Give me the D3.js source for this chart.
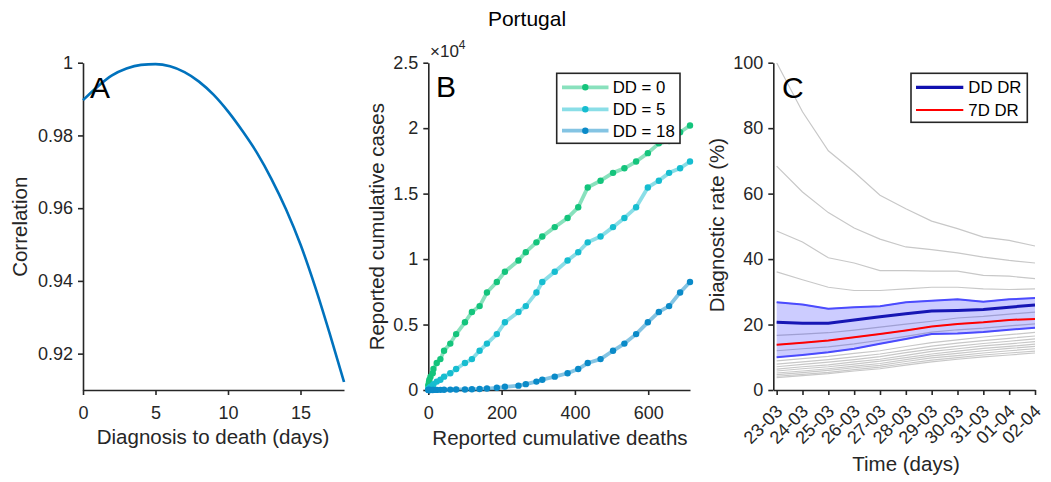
<!DOCTYPE html>
<html><head><meta charset="utf-8">
<script src="https://cdn.jsdelivr.net/npm/d3@7"></script>
<style>
body{margin:0;background:#fff;}
svg{display:block;font-family:"Liberation Sans",Arial,sans-serif;}
</style></head><body>
<svg id="chart" width="1051" height="482"></svg>
<script>
// ---------------- DATA ----------------
const chartTitle = "Portugal";

// Panel A: correlation vs diagnosis-to-death delay
const delayDays = [0,1,2,3,4,5,6,7,8,9,10,11,12,13,14,15,16,17,18];
const correlation = [0.9897,0.9934,0.9965,0.9984,0.9994,0.9996,0.9990,0.9974,0.9948,0.9912,0.9866,0.9812,0.9752,0.9680,0.9597,0.9500,0.9385,0.9257,0.9122];
const aXTicks = [0,5,10,15];
const aYTicks = [0.92,0.94,0.96,0.98,1];

// Panel B: cumulative cases (27 Feb .. 19 Apr) and cumulative deaths (16 Mar .. 19 Apr)
const cumCases = [0,0,0,0,2,4,6,9,13,21,30,39,41,59,78,112,169,245,331,448,642,785,1020,1280,
  1600,2060,2362,2995,3544,4268,5170,5962,6408,7443,8251,9034,9886,10524,11278,11730,12442,13141,
  13956,15472,15987,16585,16934,17448,18091,18841,19022,19685,20206];
const cumDeaths = [0,1,2,3,6,12,14,23,33,43,60,76,100,119,140,160,187,209,246,266,295,311,345,380,
  409,435,470,504,535,567,599,629,657,687,714];
const deathStartIndex = 18; // index of 16 Mar in cumCases
const delays = [0,5,18];
const delayLabels = ["DD = 0","DD = 5","DD = 18"];
const delayColors = ["#14c47c","#16bdd0","#0a8ac8"];
const bXTicks = [0,200,400,600];
const bYTicks = [0,5000,10000,15000,20000,25000];

// Panel C: diagnostic rate (%)
const dateLabels = ["23-03","24-03","25-03","26-03","27-03","28-03","29-03","30-03","31-03","01-04","02-04"];
const drByDelay = [
  [100.0,85.0,73.1,66.6,59.5,55.4,51.6,49.3,46.7,45.7,44.0],
  [68.4,60.5,54.2,49.5,46.1,43.7,42.9,41.9,40.6,39.6,38.8],
  [48.6,45.2,40.4,38.8,36.5,36.5,36.3,36.3,35.0,34.8,34.0],
  [36.1,33.7,31.4,30.4,30.4,30.9,31.4,31.4,30.9,30.7,30.9],
  [26.8,26.1,24.8,25.3,25.6,26.8,27.3,27.7,27.0,27.7,28.1],
  [20.7,20.4,20.4,21.4,22.4,23.3,24.1,24.3,24.6,25.3,26.0],
  [16.7,17.1,17.5,18.3,19.2,20.1,21.0,22.0,22.5,23.2,23.8],
  [13.8,14.4,15.1,16.1,17.1,18.2,19.4,20.2,20.7,21.4,21.7],
  [12.0,12.6,13.2,14.1,15.2,16.4,17.7,18.4,18.9,19.6,20.2],
  [10.0,10.7,11.5,12.6,14.1,15.6,17.1,17.3,17.7,18.4,19.0],
  [8.9,9.6,10.3,11.2,12.0,13.3,14.5,15.3,16.2,16.9,17.6],
  [7.9,8.6,9.3,10.1,11.0,12.2,13.4,14.3,15.1,15.8,16.5],
  [7.1,7.8,8.5,9.3,10.2,11.4,12.5,13.4,14.2,14.9,15.6],
  [6.4,7.1,7.7,8.6,9.4,10.6,11.8,12.6,13.5,14.1,14.8],
  [5.8,6.5,7.1,7.9,8.8,9.9,11.0,11.9,12.7,13.3,14.0],
  [5.2,5.8,6.5,7.3,8.1,9.3,10.4,11.2,12.0,12.7,13.3],
  [4.7,5.3,6.0,6.8,7.5,8.7,9.8,10.5,11.3,12.0,12.6],
  [4.2,4.8,5.4,6.2,7.0,8.1,9.1,9.9,10.7,11.3,11.9],
  [3.8,4.4,5.0,5.8,6.5,7.6,8.6,9.4,10.1,10.7,11.3]
];
const drUpper = [26.8,26.1,24.8,25.3,25.6,26.8,27.3,27.7,27.0,27.7,28.1];
const drLower = [10.0,10.7,11.5,12.6,14.1,15.6,17.1,17.3,17.7,18.4,19.0];
const ddDR    = [20.7,20.4,20.4,21.4,22.4,23.3,24.1,24.3,24.6,25.3,26.0];
const sevenDayDR = [13.8,14.4,15.1,16.1,17.1,18.2,19.4,20.2,20.7,21.4,21.7];
const cYTicks = [0,20,40,60,80,100];

// ---------------- DRAWING ----------------
const svg = d3.select("#chart");
const AX = "#262626";
const TICK_FS = 18, LABEL_FS = 20.5, LEG_FS = 16.8;

function styleAxis(g){
  g.select(".domain").attr("stroke",AX).attr("stroke-width",1.6);
  g.selectAll(".tick line").attr("stroke",AX).attr("stroke-width",1.6);
  g.selectAll(".tick text").attr("fill",AX).attr("font-size",TICK_FS).attr("font-family","Liberation Sans, Arial, sans-serif");
}
function drawAxes(x, y, xTicks, yTicks, xFmt, yFmt){
  const gx = svg.append("g").attr("transform",`translate(0,${y.range()[0]})`)
    .call(d3.axisBottom(x).tickValues(xTicks).tickFormat(xFmt).tickSizeInner(5).tickSizeOuter(0).tickPadding(11));
  styleAxis(gx);
  const gy = svg.append("g").attr("transform",`translate(${x.range()[0]},0)`)
    .call(d3.axisLeft(y).tickValues(yTicks).tickFormat(yFmt).tickSizeInner(5).tickSizeOuter(0).tickPadding(5));
  styleAxis(gy);
  return {gx, gy};
}
function text(x, y, s, fs, opts={}){
  const t = svg.append("text").attr("x",x).attr("y",y).text(s)
    .attr("font-size",fs).attr("fill",opts.fill||AX)
    .attr("text-anchor",opts.anchor||"middle");
  if(opts.rotate) t.attr("transform",`rotate(${opts.rotate},${x},${y})`);
  if(opts.dy) t.attr("dy",opts.dy);
  return t;
}

// Title
text(527, 26, chartTitle, 21, {fill:"#000"});

// ---------- Panel A ----------
const xA = d3.scaleLinear().domain([0,18]).range([83,344]);
const yA = d3.scaleLinear().domain([0.91,1]).range([390,62.7]);
drawAxes(xA, yA, aXTicks, aYTicks, d3.format("d"), d => d===1 ? "1" : d3.format(".2f")(d));
svg.append("path").datum(delayDays.map((d,i)=>[d,correlation[i]]))
  .attr("fill","none").attr("stroke","#0072bd").attr("stroke-width",2.6)
  .attr("d", d3.line().x(d=>xA(d[0])).y(d=>yA(d[1])).curve(d3.curveMonotoneX));
text(90, 98, "A", 30, {fill:"#000", anchor:"start"});
text(20, 226.7, "Correlation", LABEL_FS, {rotate:-90, dy:"0.35em"});
text(213, 444, "Diagnosis to death (days)", LABEL_FS);

// ---------- Panel B ----------
const xB = d3.scaleLinear().domain([0,714]).range([428.3,690]);
const yB = d3.scaleLinear().domain([0,25000]).range([390,62.7]);
drawAxes(xB, yB, bXTicks, bYTicks, d3.format("d"), d => String(d/1e4));
delays.forEach((lag,k)=>{
  const pts = cumDeaths.map((dth,i)=>[dth, cumCases[i+deathStartIndex-lag]]);
  svg.append("path").datum(pts).attr("fill","none").attr("stroke",delayColors[k])
    .attr("stroke-opacity",0.5).attr("stroke-width",3.8).attr("stroke-linejoin","round")
    .attr("d", d3.line().x(d=>xB(d[0])).y(d=>yB(d[1])));
  svg.append("g").selectAll("circle").data(pts).join("circle")
    .attr("cx",d=>xB(d[0])).attr("cy",d=>yB(d[1])).attr("r",3.2).attr("fill",delayColors[k]);
});
text(436, 97, "B", 30, {fill:"#000", anchor:"start"});
const exp = svg.append("text").attr("x",430).attr("y",56.7).attr("font-size",17).attr("fill",AX);
exp.append("tspan").text("×10");
exp.append("tspan").attr("font-size",12).attr("dy",-8).text("4");
text(377, 226.7, "Reported cumulative cases", LABEL_FS, {rotate:-90, dy:"0.35em"});
text(560, 445, "Reported cumulative deaths", LABEL_FS);
// legend B
const legB = svg.append("g");
legB.append("rect").attr("x",556.7).attr("y",73.3).attr("width",123.3).attr("height",70)
  .attr("fill","#fff").attr("stroke",AX).attr("stroke-width",1.6);
delayLabels.forEach((lab,k)=>{
  const yy = [87.3,109.3,130.7][k];
  legB.append("line").attr("x1",562).attr("x2",608.5).attr("y1",yy).attr("y2",yy)
    .attr("stroke",delayColors[k]).attr("stroke-opacity",0.5).attr("stroke-width",3.8);
  legB.append("circle").attr("cx",585.3).attr("cy",yy).attr("r",3.2).attr("fill",delayColors[k]);
  legB.append("text").attr("x",612.7).attr("y",yy).attr("dy","0.36em").attr("font-size",LEG_FS)
    .attr("fill","#000").text(lab);
});

// ---------- Panel C ----------
const xC = d3.scaleLinear().domain([-0.13,10]).range([773.3,1035]);
const yC = d3.scaleLinear().domain([0,100]).range([390,62.7]);
const idx = dateLabels.map((d,i)=>i);
const axC = drawAxes(xC, yC, idx, cYTicks, i => dateLabels[i], d3.format("d"));
axC.gx.selectAll(".tick text").attr("text-anchor","end").attr("dy","0.35em")
  .attr("y",0).attr("x",0).attr("transform","translate(2,18) rotate(-45)");
const lineC = d3.line().x((d,i)=>xC(i)).y(d=>yC(d));
const clipC = svg.append("clipPath").attr("id","clipC").append("rect")
  .attr("x",773.3).attr("y",62.7).attr("width",262).attr("height",327.3);
const gC = svg.append("g").attr("clip-path","url(#clipC)");
drByDelay.forEach(arr=>{
  gC.append("path").datum(arr).attr("fill","none").attr("stroke","#c8c8c8").attr("stroke-width",1.2).attr("d",lineC);
});
gC.append("path").datum(idx).attr("fill","rgba(0,0,255,0.2)").attr("stroke","none")
  .attr("d", d3.area().x(i=>xC(i)).y0(i=>yC(drLower[i])).y1(i=>yC(drUpper[i])));
[drUpper, drLower].forEach(arr=>{
  gC.append("path").datum(arr).attr("fill","none").attr("stroke","#4b4bff").attr("stroke-width",2).attr("d",lineC);
});
gC.append("path").datum(ddDR).attr("fill","none").attr("stroke","#1616b4").attr("stroke-width",3).attr("d",lineC);
gC.append("path").datum(sevenDayDR).attr("fill","none").attr("stroke","#ff0000").attr("stroke-width",2).attr("d",lineC);
text(782, 98, "C", 30, {fill:"#000", anchor:"start"});
text(717, 225, "Diagnostic rate (%)", LABEL_FS, {rotate:-90, dy:"0.35em"});
text(906, 471, "Time (days)", LABEL_FS);
// legend C
const legC = svg.append("g");
legC.append("rect").attr("x",911).attr("y",73.3).attr("width",116.3).attr("height",49)
  .attr("fill","#fff").attr("stroke",AX).attr("stroke-width",1.6);
legC.append("line").attr("x1",916).attr("x2",963.3).attr("y1",87.3).attr("y2",87.3).attr("stroke","#1010b0").attr("stroke-width",3.2);
legC.append("line").attr("x1",916).attr("x2",963.3).attr("y1",110).attr("y2",110).attr("stroke","#ff0000").attr("stroke-width",2);
legC.append("text").attr("x",968.3).attr("y",87.3).attr("dy","0.36em").attr("font-size",LEG_FS).attr("fill","#000").text("DD DR");
legC.append("text").attr("x",968.3).attr("y",110).attr("dy","0.36em").attr("font-size",LEG_FS).attr("fill","#000").text("7D DR");
</script>
</body></html>
